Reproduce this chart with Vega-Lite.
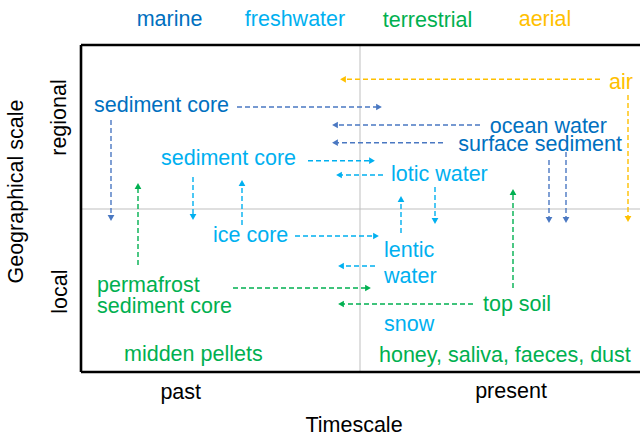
{
  "$schema": "https://vega.github.io/schema/vega-lite/v6.json",
  "width": 559,
  "height": 327,
  "autosize": "none",
  "padding": {"left": 81, "top": 45, "right": 0, "bottom": 65},
  "background": "white",
  "config": {"view": {"stroke": null}, "font": "Liberation Sans"},
  "datasets": {
    "frame": [
      {"x0": 0, "y0": 0, "x1": 559, "y1": 0},
      {"x0": 0, "y0": 327, "x1": 559, "y1": 327},
      {"x0": 0, "y0": 0, "x1": 0, "y1": 327}
    ],
    "midlines": [
      {"x0": 279, "y0": 0, "x1": 279, "y1": 327},
      {"x0": 0, "y0": 163, "x1": 559, "y1": 163}
    ],
    "arrows": [
      {"group": "aerial", "x0": 519, "y0": 292.7, "x1": 262, "y1": 292.7, "dir": "triangle-left"},
      {"group": "aerial", "x0": 547, "y0": 277, "x1": 547, "y1": 153, "dir": "triangle-down"},
      {"group": "marine", "x0": 156, "y0": 265, "x1": 298, "y1": 265, "dir": "triangle-right"},
      {"group": "marine", "x0": 30, "y0": 252, "x1": 30, "y1": 154, "dir": "triangle-down"},
      {"group": "marine", "x0": 399, "y0": 247, "x1": 254, "y1": 247, "dir": "triangle-left"},
      {"group": "marine", "x0": 362, "y0": 229.3, "x1": 254, "y1": 229.3, "dir": "triangle-left"},
      {"group": "marine", "x0": 468, "y0": 212, "x1": 468, "y1": 152, "dir": "triangle-down"},
      {"group": "marine", "x0": 485, "y0": 220, "x1": 485, "y1": 152, "dir": "triangle-down"},
      {"group": "freshwater", "x0": 227, "y0": 211.3, "x1": 291, "y1": 211.3, "dir": "triangle-right"},
      {"group": "freshwater", "x0": 112, "y0": 195, "x1": 112, "y1": 155, "dir": "triangle-down"},
      {"group": "freshwater", "x0": 161, "y0": 147, "x1": 161, "y1": 189, "dir": "triangle-up"},
      {"group": "freshwater", "x0": 302, "y0": 197, "x1": 258, "y1": 197, "dir": "triangle-left"},
      {"group": "freshwater", "x0": 354, "y0": 185, "x1": 354, "y1": 151, "dir": "triangle-down"},
      {"group": "freshwater", "x0": 320, "y0": 139, "x1": 320, "y1": 173, "dir": "triangle-up"},
      {"group": "freshwater", "x0": 214, "y0": 136, "x1": 295, "y1": 136, "dir": "triangle-right"},
      {"group": "freshwater", "x0": 294, "y0": 106, "x1": 260, "y1": 106, "dir": "triangle-left"},
      {"group": "terrestrial", "x0": 57, "y0": 107, "x1": 57, "y1": 186, "dir": "triangle-up"},
      {"group": "terrestrial", "x0": 152, "y0": 84, "x1": 287, "y1": 84, "dir": "triangle-right"},
      {"group": "terrestrial", "x0": 392, "y0": 68, "x1": 260, "y1": 68, "dir": "triangle-left"},
      {"group": "terrestrial", "x0": 432, "y0": 84, "x1": 432, "y1": 180, "dir": "triangle-up"}
    ],
    "labelsLeft": [
      {"label": "sediment core", "group": "marine", "x": 13, "y": 260.3},
      {"label": "sediment core", "group": "freshwater", "x": 80, "y": 207},
      {"label": "lotic water", "group": "freshwater", "x": 310, "y": 191.3},
      {"label": "ice core", "group": "freshwater", "x": 132, "y": 130.3},
      {"label": "lentic", "group": "freshwater", "x": 303, "y": 115.3},
      {"label": "water", "group": "freshwater", "x": 303, "y": 89.3},
      {"label": "permafrost", "group": "terrestrial", "x": 16, "y": 80.3},
      {"label": "sediment core", "group": "terrestrial", "x": 16, "y": 58.7},
      {"label": "top soil", "group": "terrestrial", "x": 402, "y": 61.3},
      {"label": "snow", "group": "freshwater", "x": 303, "y": 41.3},
      {"label": "midden pellets", "group": "terrestrial", "x": 43, "y": 11.3},
      {"label": "honey, saliva, faeces, dust", "group": "terrestrial", "x": 298, "y": 10.3}
    ],
    "labelsRight": [
      {"label": "air", "group": "aerial", "x": 552, "y": 282.7},
      {"label": "ocean water", "group": "marine", "x": 526, "y": 239.3},
      {"label": "surface sediment", "group": "marine", "x": 541, "y": 221.3}
    ],
    "categories": [
      {"label": "marine", "group": "marine", "x": 88.5, "y": 346},
      {"label": "freshwater", "group": "freshwater", "x": 214, "y": 346},
      {"label": "terrestrial", "group": "terrestrial", "x": 346.5, "y": 345},
      {"label": "aerial", "group": "aerial", "x": 464, "y": 346}
    ],
    "axisText": [
      {"label": "past", "x": 99.7, "y": -27.3},
      {"label": "present", "x": 430, "y": -26},
      {"label": "Timescale", "x": 273, "y": -59.7}
    ],
    "axisTextRot": [
      {"label": "Geographical scale", "x": -58, "y": 180.5},
      {"label": "regional", "x": -15.5, "y": 254.5},
      {"label": "local", "x": -14.5, "y": 80.3}
    ]
  },
  "encoding": {
    "x": {"field": "x0", "type": "quantitative", "scale": {"domain": [0, 559], "nice": false, "zero": false}, "axis": null},
    "y": {"field": "y0", "type": "quantitative", "scale": {"domain": [0, 327], "nice": false, "zero": false}, "axis": null}
  },
  "layer": [
    {
      "data": {"name": "midlines"},
      "mark": {"type": "rule", "color": "#BFBFBF", "strokeWidth": 1},
      "encoding": {"x2": {"field": "x1"}, "y2": {"field": "y1"}}
    },
    {
      "data": {"name": "frame"},
      "mark": {"type": "rule", "color": "#000000", "strokeWidth": 2.6},
      "encoding": {"x2": {"field": "x1"}, "y2": {"field": "y1"}}
    },
    {
      "data": {"name": "arrows"},
      "mark": {"type": "rule", "strokeWidth": 1.4, "strokeDash": [5, 3]},
      "encoding": {
        "x2": {"field": "x1"},
        "y2": {"field": "y1"},
        "color": {"field": "group", "type": "nominal", "scale": {"domain": ["marine", "freshwater", "terrestrial", "aerial"], "range": ["#4A78C2", "#00B0F0", "#00B050", "#FFC000"]}, "legend": null}
      }
    },
    {
      "data": {"name": "arrows"},
      "mark": {"type": "point", "filled": true, "opacity": 1, "size": 45},
      "encoding": {
        "x": {"field": "x1", "type": "quantitative"},
        "y": {"field": "y1", "type": "quantitative"},
        "shape": {"field": "dir", "type": "nominal", "scale": null},
        "color": {"field": "group", "type": "nominal", "scale": {"domain": ["marine", "freshwater", "terrestrial", "aerial"], "range": ["#4A78C2", "#00B0F0", "#00B050", "#FFC000"]}, "legend": null}
      }
    },
    {
      "data": {"name": "labelsLeft"},
      "mark": {"type": "text", "align": "left", "baseline": "alphabetic", "fontSize": 21.5},
      "encoding": {
        "x": {"field": "x", "type": "quantitative"},
        "y": {"field": "y", "type": "quantitative"},
        "text": {"field": "label"},
        "color": {"field": "group", "type": "nominal", "scale": {"domain": ["marine", "freshwater", "terrestrial", "aerial"], "range": ["#0070C0", "#00B0F0", "#00B050", "#FFC000"]}, "legend": null}
      }
    },
    {
      "data": {"name": "labelsRight"},
      "mark": {"type": "text", "align": "right", "baseline": "alphabetic", "fontSize": 21.5},
      "encoding": {
        "x": {"field": "x", "type": "quantitative"},
        "y": {"field": "y", "type": "quantitative"},
        "text": {"field": "label"},
        "color": {"field": "group", "type": "nominal", "scale": {"domain": ["marine", "freshwater", "terrestrial", "aerial"], "range": ["#0070C0", "#00B0F0", "#00B050", "#FFC000"]}, "legend": null}
      }
    },
    {
      "data": {"name": "categories"},
      "mark": {"type": "text", "align": "center", "baseline": "alphabetic", "fontSize": 21.5},
      "encoding": {
        "x": {"field": "x", "type": "quantitative"},
        "y": {"field": "y", "type": "quantitative"},
        "text": {"field": "label"},
        "color": {"field": "group", "type": "nominal", "scale": {"domain": ["marine", "freshwater", "terrestrial", "aerial"], "range": ["#0070C0", "#00B0F0", "#00B050", "#FFC000"]}, "legend": null}
      }
    },
    {
      "data": {"name": "axisText"},
      "mark": {"type": "text", "align": "center", "baseline": "alphabetic", "fontSize": 21.5, "color": "#000000"},
      "encoding": {
        "x": {"field": "x", "type": "quantitative"},
        "y": {"field": "y", "type": "quantitative"},
        "text": {"field": "label"}
      }
    },
    {
      "data": {"name": "axisTextRot"},
      "mark": {"type": "text", "align": "center", "baseline": "alphabetic", "fontSize": 21.5, "angle": 270, "color": "#000000"},
      "encoding": {
        "x": {"field": "x", "type": "quantitative"},
        "y": {"field": "y", "type": "quantitative"},
        "text": {"field": "label"}
      }
    }
  ],
  "resolve": {"scale": {"color": "independent"}}
}
